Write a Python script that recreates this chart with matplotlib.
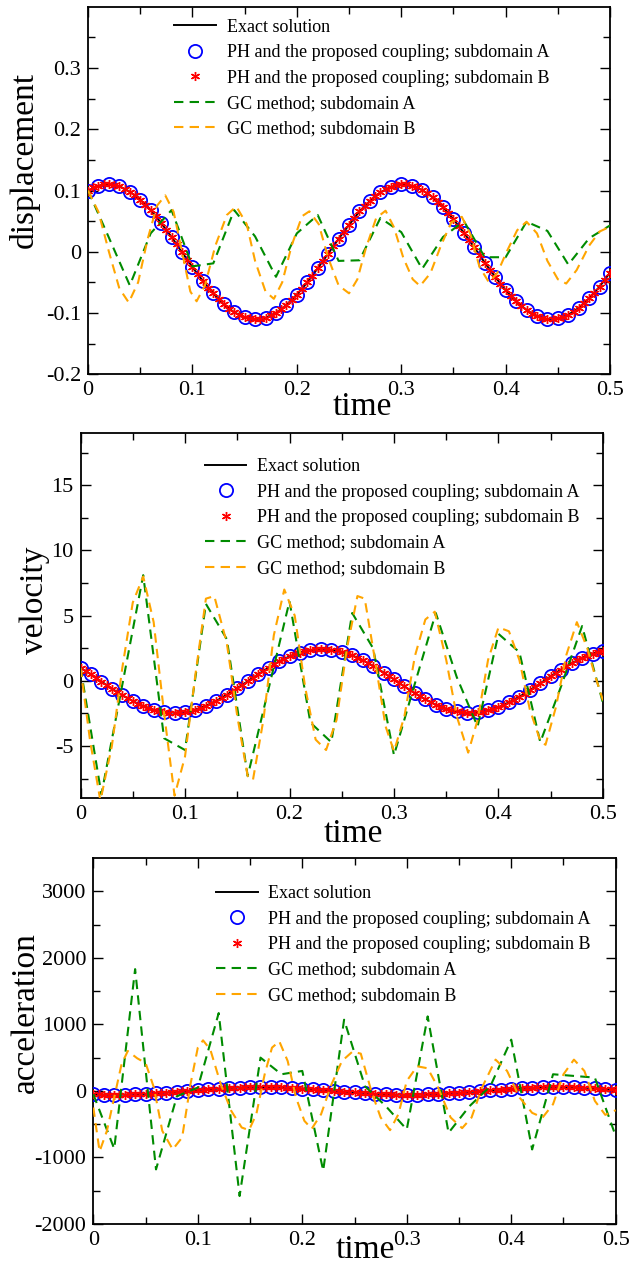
import numpy as np
import matplotlib
matplotlib.use('Agg')
import matplotlib.pyplot as plt
from matplotlib.ticker import FixedLocator, FuncFormatter

plt.rcParams['font.family'] = ['Liberation Serif', 'DejaVu Serif']
plt.rcParams['axes.unicode_minus'] = False

GREEN, ORANGE = '#008B00', '#FFA500'

# time grids
t_ph = np.linspace(0, 0.5, 51)     # exact / PH subdomain A, dt = 0.01
t_phB = np.linspace(0, 0.5, 101)   # PH subdomain B, dt = 0.005
t_gcA = np.linspace(0, 0.5, 26)    # GC subdomain A, dt = 0.02

# ---- displacement ----
disp_exact = [0.100, 0.108, 0.110, 0.107, 0.098, 0.085, 0.068, 0.047, 0.024, -0.001,
              -0.025, -0.048, -0.068, -0.086, -0.099, -0.107, -0.110, -0.108, -0.100, -0.087,
              -0.070, -0.050, -0.027, -0.003, 0.021, 0.044, 0.066, 0.083, 0.097, 0.106,
              0.110, 0.108, 0.101, 0.089, 0.073, 0.053, 0.031, 0.007, -0.018, -0.041,
              -0.063, -0.081, -0.095, -0.105, -0.110, -0.109, -0.103, -0.092, -0.076, -0.057,
              -0.034]
disp_phB = [0.100, 0.105, 0.108, 0.110, 0.110, 0.109, 0.107, 0.103, 0.098, 0.092,
            0.085, 0.077, 0.068, 0.058, 0.047, 0.035, 0.024, 0.012, -0.001, -0.013,
            -0.025, -0.037, -0.048, -0.059, -0.068, -0.078, -0.086, -0.093, -0.099, -0.104,
            -0.107, -0.109, -0.110, -0.110, -0.108, -0.104, -0.100, -0.094, -0.087, -0.079,
            -0.070, -0.061, -0.050, -0.039, -0.027, -0.015, -0.003, 0.009, 0.021, 0.033,
            0.044, 0.055, 0.066, 0.075, 0.083, 0.091, 0.097, 0.102, 0.106, 0.109,
            0.110, 0.110, 0.108, 0.106, 0.101, 0.096, 0.089, 0.082, 0.073, 0.064,
            0.053, 0.042, 0.031, 0.019, 0.007, -0.005, -0.018, -0.030, -0.041, -0.052,
            -0.063, -0.072, -0.081, -0.089, -0.095, -0.101, -0.105, -0.108, -0.110, -0.110,
            -0.109, -0.107, -0.103, -0.098, -0.092, -0.084, -0.076, -0.067, -0.057, -0.046,
            -0.034]
disp_gcA = [0.100, 0.023, -0.055, 0.030, 0.068, -0.024, -0.019, 0.068, 0.025, -0.041,
            0.030, 0.060, -0.015, -0.014, 0.055, 0.032, -0.028, 0.024, 0.050, -0.009,
            -0.009, 0.049, 0.034, -0.021, 0.022, 0.043]
t_disp_gcB = [0.000, 0.010, 0.020, 0.030, 0.039, 0.048, 0.057, 0.066, 0.074, 0.082,
              0.090, 0.098, 0.104, 0.112, 0.122, 0.133, 0.142, 0.152, 0.160, 0.170,
              0.178, 0.186, 0.195, 0.205, 0.212, 0.221, 0.230, 0.240, 0.250, 0.258,
              0.266, 0.276, 0.285, 0.293, 0.302, 0.311, 0.318, 0.328, 0.338, 0.348,
              0.358, 0.366, 0.375, 0.384, 0.392, 0.401, 0.411, 0.420, 0.430, 0.440,
              0.450, 0.458, 0.468, 0.480, 0.490, 0.500]
disp_gcB = [0.100, 0.065, 0.000, -0.060, -0.083, -0.050, 0.020, 0.075, 0.092, 0.065,
            0.000, -0.065, -0.081, -0.055, 0.010, 0.060, 0.074, 0.045, -0.015, -0.065,
            -0.077, -0.050, 0.010, 0.058, 0.066, 0.045, -0.010, -0.055, -0.068, -0.045,
            0.005, 0.055, 0.067, 0.040, -0.010, -0.045, -0.056, -0.035, 0.010, 0.048,
            0.057, 0.030, -0.025, -0.050, -0.035, 0.000, 0.035, 0.049, 0.030, -0.015,
            -0.045, -0.052, -0.030, 0.010, 0.033, 0.041]

# ---- velocity ----
vel_exact = [1.00, 0.49, -0.05, -0.59, -1.10, -1.55, -1.93, -2.21, -2.38, -2.44,
             -2.38, -2.20, -1.91, -1.53, -1.07, -0.56, -0.03, 0.51, 1.02, 1.49,
             1.88, 2.17, 2.36, 2.44, 2.39, 2.23, 1.96, 1.59, 1.15, 0.64,
             0.11, -0.43, -0.95, -1.42, -1.82, -2.14, -2.34, -2.44, -2.41, -2.26,
             -2.01, -1.65, -1.22, -0.72, -0.19, 0.35, 0.87, 1.35, 1.77, 2.09,
             2.32]
vel_phB = [1.00, 0.75, 0.49, 0.22, -0.05, -0.32, -0.59, -0.85, -1.10, -1.33,
           -1.55, -1.75, -1.93, -2.08, -2.21, -2.31, -2.38, -2.43, -2.44, -2.42,
           -2.38, -2.30, -2.20, -2.07, -1.91, -1.73, -1.53, -1.31, -1.07, -0.82,
           -0.56, -0.30, -0.03, 0.24, 0.51, 0.77, 1.02, 1.26, 1.49, 1.69,
           1.88, 2.04, 2.17, 2.28, 2.36, 2.42, 2.44, 2.43, 2.39, 2.33,
           2.23, 2.11, 1.96, 1.79, 1.59, 1.38, 1.15, 0.90, 0.64, 0.38,
           0.11, -0.16, -0.43, -0.69, -0.95, -1.19, -1.42, -1.63, -1.82, -1.99,
           -2.14, -2.25, -2.34, -2.40, -2.44, -2.44, -2.41, -2.35, -2.26, -2.15,
           -2.01, -1.84, -1.65, -1.44, -1.22, -0.98, -0.72, -0.46, -0.19, 0.08,
           0.35, 0.62, 0.87, 1.12, 1.35, 1.57, 1.77, 1.94, 2.09, 2.22,
           2.32]
vel_gcA = [1.0, -8.7, -0.3, 8.1, -4.4, -5.3, 5.9, 3.2, -7.3, -0.6,
           6.1, -3.2, -4.7, 5.2, 2.5, -5.7, -0.2, 5.2, 0.3, -3.5,
           3.6, 2.2, -4.7, -0.4, 4.2, -1.7]
t_vel_gcB = [0.000, 0.009, 0.019, 0.030, 0.040, 0.050, 0.060, 0.070, 0.080, 0.090,
             0.100, 0.110, 0.120, 0.128, 0.140, 0.150, 0.160, 0.165, 0.175, 0.185,
             0.195, 0.205, 0.215, 0.225, 0.235, 0.245, 0.255, 0.265, 0.272, 0.282,
             0.292, 0.300, 0.310, 0.320, 0.330, 0.339, 0.350, 0.360, 0.371, 0.380,
             0.390, 0.400, 0.410, 0.420, 0.430, 0.440, 0.445, 0.455, 0.465, 0.475,
             0.485, 0.492, 0.500]
vel_gcB = [1.0, -4.5, -9.2, -5.0, 1.0, 6.0, 8.0, 4.5, -2.5, -8.8,
           -5.8, 0.5, 6.3, 6.5, 2.9, -2.7, -7.3, -7.6, -3.0, 3.5,
           7.0, 5.0, -0.5, -4.5, -5.3, -3.0, 2.5, 6.5, 6.3, 1.5,
           -3.5, -5.4, -2.7, 1.9, 4.7, 5.3, 1.6, -2.7, -5.5, -3.0,
           1.6, 4.1, 3.8, 1.6, -2.2, -4.6, -4.9, -2.0, 2.0, 4.5,
           2.5, 0.5, -1.5]

# ---- acceleration ----
acc_exact = [-52, -56, -57, -56, -51, -44, -35, -24, -12, 1,
             13, 25, 35, 45, 51, 56, 57, 56, 52, 45,
             36, 26, 14, 2, -11, -23, -34, -43, -50, -55,
             -57, -56, -53, -46, -38, -28, -16, -4, 9, 21,
             33, 42, 49, 55, 57, 57, 54, 48, 40, 30,
             18]
acc_phB = [-52, -54, -56, -57, -57, -57, -56, -54, -51, -48,
           -44, -40, -35, -30, -24, -18, -12, -6, 1, 7,
           13, 19, 25, 30, 35, 40, 45, 48, 51, 54,
           56, 57, 57, 57, 56, 54, 52, 49, 45, 41,
           36, 32, 26, 20, 14, 8, 2, -5, -11, -17,
           -23, -29, -34, -39, -43, -47, -50, -53, -55, -57,
           -57, -57, -56, -55, -53, -50, -46, -43, -38, -33,
           -28, -22, -16, -10, -4, 3, 9, 15, 21, 27,
           33, 38, 42, 46, 49, 52, 55, 56, 57, 57,
           57, 55, 54, 51, 48, 44, 40, 35, 30, 24,
           18]
acc_gcA = [-50, -870, 1830, -1180, -80, 50, 1170, -1580, 500, 250,
           300, -1200, 1070, 70, -230, -580, 1120, -630, -230, 70,
           770, -880, 250, 225, 200, -680]
t_acc_gcB = [0.000, 0.006, 0.013, 0.020, 0.027, 0.033, 0.042, 0.050, 0.058, 0.066,
             0.076, 0.085, 0.093, 0.100, 0.105, 0.112, 0.122, 0.132, 0.142, 0.149,
             0.156, 0.164, 0.171, 0.178, 0.186, 0.194, 0.202, 0.209, 0.218, 0.228,
             0.238, 0.248, 0.256, 0.266, 0.275, 0.284, 0.292, 0.300, 0.310, 0.320,
             0.330, 0.342, 0.353, 0.362, 0.372, 0.385, 0.396, 0.408, 0.420, 0.430,
             0.440, 0.450, 0.460, 0.470, 0.480, 0.490, 0.500]
acc_gcB = [-250, -910, -600, -100, 400, 600, 490, 420, 50, -600,
           -880, -700, 100, 650, 760, 620, 100, -300, -550, -590,
           -350, 250, 650, 745, 450, -100, -450, -570, -350, 100,
           450, 590, 560, 0, -400, -590, -350, 150, 370, 340,
           50, -400, -560, -400, 50, 470, 300, -100, -330, -400,
           -200, 250, 470, 300, -150, -360, -290]

panels = [
    dict(exact=disp_exact, phB=disp_phB, gcA=disp_gcA, tB=t_disp_gcB, gcB=disp_gcB,
         ylabel='displacement', ylim=(-0.2, 0.4),
         major=[-0.2, -0.1, 0, 0.1, 0.2, 0.3], minor=np.arange(-0.15, 0.4, 0.1),
         rect=[0.1395, 0.7061, 0.8273, 0.2885], leg=(0.165, 0.968),
         ylab=(-0.092, 0.583), xlab=(0.525, -0.046)),
    dict(exact=vel_exact, phB=vel_phB, gcA=vel_gcA, tB=t_vel_gcB, gcB=vel_gcB,
         ylabel='velocity', ylim=(-9, 19),
         major=[-5, 0, 5, 10, 15], minor=np.arange(-7.5, 19, 5),
         rect=[0.1276, 0.3729, 0.8280, 0.2870], leg=(0.238, 0.931),
         ylab=(-0.058, 0.543), xlab=(0.522, -0.054)),
    dict(exact=acc_exact, phB=acc_phB, gcA=acc_gcA, tB=t_acc_gcB, gcB=acc_gcB,
         ylabel='acceleration', ylim=(-2000, 3500),
         major=[-2000, -1000, 0, 1000, 2000, 3000], minor=np.arange(-1500, 3500, 1000),
         rect=[0.1479, 0.0385, 0.8279, 0.2875], leg=(0.235, 0.926),
         ylab=(-0.100, 0.577), xlab=(0.520, -0.030)),
]

fig = plt.figure(figsize=(6.31, 12.73), dpi=100)
fig.patch.set_facecolor('white')

fmt = FuncFormatter(lambda v, p: '%g' % round(v, 6))

for p in panels:
    ax = fig.add_axes(p['rect'])
    ax.plot(t_ph, p['exact'], color='black', lw=1.4, zorder=2, label='Exact solution')
    ax.plot(t_ph, p['exact'], ls='none', marker='o', ms=9.5, mfc='none', mec='#0000FF',
            mew=1.3, zorder=3, label='PH and the proposed coupling; subdomain A')
    ax.plot(t_phB, p['phB'], ls='none', marker=(6, 2, 0), ms=6.5, mec='#FF0000',
            mew=1.0, zorder=4, label='PH and the proposed coupling; subdomain B')
    ax.plot(t_gcA, p['gcA'], color=GREEN, lw=1.5, dashes=(4.5, 3), zorder=5,
            label='GC method; subdomain A')
    ax.plot(p['tB'], p['gcB'], color=ORANGE, lw=1.5, dashes=(4.5, 3), zorder=6,
            label='GC method; subdomain B')

    ax.set_xlim(0, 0.5)
    ax.set_ylim(*p['ylim'])
    ax.xaxis.set_major_locator(FixedLocator([0, 0.1, 0.2, 0.3, 0.4, 0.5]))
    ax.xaxis.set_minor_locator(FixedLocator([0.05, 0.15, 0.25, 0.35, 0.45]))
    ax.yaxis.set_major_locator(FixedLocator(p['major']))
    ax.yaxis.set_minor_locator(FixedLocator(p['minor']))
    ax.xaxis.set_major_formatter(fmt)
    ax.yaxis.set_major_formatter(fmt)
    ax.tick_params(which='both', direction='in', top=True, right=True, width=1.0,
                   labelsize=16, pad=5)
    ax.tick_params(which='major', length=7)
    ax.tick_params(which='minor', length=5)
    for s in ax.spines.values():
        s.set_linewidth(1.3)

    ax.set_ylabel(p['ylabel'], fontsize=24)
    ax.set_xlabel('time', fontsize=24)
    ax.yaxis.set_label_coords(*p['ylab'])
    ax.xaxis.set_label_coords(*p['xlab'])

    ax.legend(loc='upper left', bbox_to_anchor=p['leg'], frameon=False, fontsize=13,
              handlelength=2.3, handletextpad=0.6, labelspacing=0.47, borderpad=0,
              borderaxespad=0, numpoints=1)

fig.savefig('out.png', dpi=100, facecolor='white')
plt.close(fig)
